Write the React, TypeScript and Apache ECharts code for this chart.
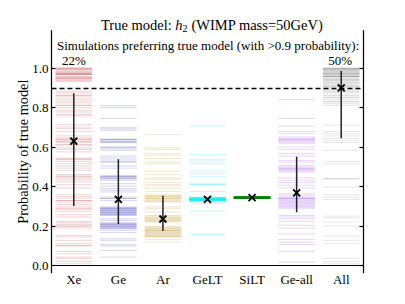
import React, { useEffect, useRef } from "react";
import * as echarts from "echarts";

const categories = ["Xe", "Ge", "Ar", "GeLT", "SiLT", "Ge-all", "All"];
const yTicks = [0, 0.2, 0.4, 0.6, 0.8, 1.0];

const xeValues = [
  1.0, 1.0, 1.0, 0.993, 0.993, 0.985, 0.985, 0.975, 0.975, 0.975, 0.975, 0.968, 0.968, 0.968, 0.955, 0.955, 0.955, 0.948, 0.948, 0.94, 0.94, 0.932,
  0.883, 0.875, 0.863, 0.863, 0.854, 0.843, 0.833, 0.824, 0.812, 0.812, 0.8, 0.787, 0.778, 0.765, 0.758,
  0.714, 0.702, 0.694, 0.68,
  0.657, 0.647, 0.64, 0.64, 0.63, 0.63, 0.623, 0.613, 0.61,
  0.596, 0.589, 0.576,
  0.545, 0.54, 0.537, 0.528, 0.516, 0.505, 0.494, 0.483,
  0.461, 0.454, 0.45, 0.444, 0.435, 0.424,
  0.41, 0.393,
  0.359, 0.349, 0.342, 0.33, 0.33, 0.322, 0.309, 0.297, 0.29, 0.285, 0.275,
  0.258, 0.246,
  0.224, 0.217, 0.209, 0.2, 0.2, 0.19,
  0.153, 0.145, 0.128, 0.111, 0.102, 0.1,
  0.072, 0.06,
  0.043, 0.035, 0.021, 0.009,
];
const geValues = [
  0.81, 0.8, 0.745, 0.7, 0.693, 0.686, 0.64, 0.64, 0.638, 0.63, 0.63, 0.625, 0.623, 0.6, 0.6, 0.592, 0.584,
  0.555, 0.545, 0.535, 0.525, 0.525, 0.505, 0.494, 0.457, 0.452, 0.45, 0.45, 0.445, 0.44, 0.44, 0.432,
  0.415, 0.403, 0.39, 0.382, 0.373, 0.347, 0.34, 0.34, 0.33,
  0.297, 0.295, 0.29, 0.29, 0.288, 0.285, 0.28, 0.28, 0.278, 0.275, 0.27, 0.27, 0.268, 0.265, 0.26, 0.26, 0.258, 0.254,
  0.237, 0.229, 0.217, 0.214, 0.21, 0.21, 0.207, 0.205, 0.2, 0.2, 0.198, 0.195, 0.19, 0.19, 0.187,
  0.178, 0.167, 0.136, 0.128, 0.106, 0.099, 0.077, 0.043,
];
const arValues = [
  0.663, 0.596, 0.589, 0.567, 0.559, 0.542, 0.525, 0.516, 0.478, 0.461, 0.444, 0.437, 0.42, 0.41, 0.403, 0.39, 0.376,
  0.359, 0.355, 0.35, 0.35, 0.345, 0.34, 0.34, 0.335, 0.33, 0.325, 0.322, 0.297, 0.288, 0.271,
  0.254, 0.25, 0.245, 0.24, 0.24, 0.235, 0.23, 0.23, 0.225, 0.221,
  0.2, 0.195, 0.19, 0.19, 0.185, 0.18, 0.18, 0.178, 0.175, 0.17, 0.17, 0.165, 0.16, 0.16, 0.155, 0.15, 0.15, 0.148, 0.145,
  0.133, 0.119,
];
const geltValues = [
  0.707, 0.564, 0.538, 0.53, 0.516, 0.478, 0.466, 0.449, 0.415, 0.412, 0.41, 0.376,
  0.347, 0.345, 0.344, 0.343, 0.342, 0.341, 0.34, 0.339, 0.338, 0.337, 0.336, 0.336, 0.335, 0.334, 0.333, 0.332,
  0.331, 0.33, 0.329, 0.328, 0.327, 0.326, 0.325, 0.336, 0.338, 0.34, 0.334, 0.332,
  0.314, 0.276, 0.158,
];
const siltValues = [0.344, 0.344, 0.344, 0.344, 0.344, 0.344, 0.344, 0.344, 0.344, 0.344];
const geAllValues = [
  0.841, 0.745, 0.707, 0.68, 0.668, 0.652, 0.645, 0.64, 0.64, 0.635, 0.63, 0.625, 0.618,
  0.601, 0.589, 0.567, 0.555, 0.533, 0.525, 0.508, 0.5, 0.495, 0.49, 0.49, 0.485, 0.48, 0.474,
  0.444, 0.432, 0.42, 0.407, 0.393, 0.364, 0.356,
  0.347, 0.343, 0.34, 0.34, 0.335, 0.33, 0.325, 0.32, 0.315, 0.31, 0.305, 0.3, 0.295, 0.288,
  0.254, 0.246, 0.237, 0.224, 0.204, 0.19, 0.161, 0.133, 0.119, 0.106, 0.072, 0.018,
];
const allValues = [
  1.0, 1.0, 1.0, 0.995, 0.995, 0.995, 0.995, 0.988, 0.988, 0.985, 0.98, 0.98, 0.98, 0.972, 0.972, 0.972, 0.972,
  0.965, 0.965, 0.965, 0.958, 0.958, 0.958, 0.958, 0.95, 0.95, 0.943, 0.943, 0.937, 0.937, 0.93,
  0.925, 0.925, 0.915, 0.915, 0.908, 0.908, 0.902,
  0.89, 0.89, 0.88, 0.88, 0.87, 0.86, 0.86, 0.85, 0.85, 0.84, 0.83, 0.83, 0.82, 0.812,
  0.711, 0.68, 0.668, 0.657, 0.645, 0.635, 0.623, 0.584, 0.528, 0.516,
  0.44, 0.44, 0.398, 0.359, 0.347, 0.336, 0.251, 0.241, 0.221, 0.2, 0.15, 0.128, 0.111, 0.035, 0.021, 0.009,
];
const markerValues = [0.631, 0.336, 0.236, 0.336, 0.344, 0.368, 0.9];
const errLow = [0.302, 0.21, 0.175, 0.336, 0.344, 0.27, 0.645];
const errHigh = [0.873, 0.539, 0.354, 0.336, 0.344, 0.552, 0.986];
const threshold = 0.9;
const percentLabels = ["22%", "50%"];

const columns = [
  { values: xeValues, color: "rgba(178,34,34,0.2)" },
  { values: geValues, color: "rgba(50,50,170,0.2)" },
  { values: arValues, color: "rgba(184,134,11,0.2)" },
  { values: geltValues, color: "rgba(0,240,240,0.25)" },
  { values: siltValues, color: "rgba(0,128,0,0.4)" },
  { values: geAllValues, color: "rgba(138,43,226,0.2)" },
  { values: allValues, color: "rgba(0,0,0,0.1)" },
];

const FONT = "'Liberation Serif', 'DejaVu Serif', serif";

export default function App() {
  const ref = useRef<HTMLDivElement>(null);
  useEffect(() => {
    if (!ref.current) return;
    const chart = echarts.init(ref.current, null, { renderer: "svg" });

    const lineSeries = columns.map((col, ci) => ({
      type: "custom",
      xAxisIndex: 0,
      yAxisIndex: 0,
      data: col.values.map((v) => [ci, v]),
      renderItem: (params: any, api: any) => {
        const c = api.coord([api.value(0), api.value(1)]);
        const w = api.size([1, 0])[0] * 0.82;
        return {
          type: "line",
          shape: { x1: c[0] - w / 2, y1: c[1], x2: c[0] + w / 2, y2: c[1] },
          style: { stroke: col.color, lineWidth: ci === 4 ? 2.2 : 1.0 },
        };
      },
      z: 1,
    }));

    const option: any = {
      animation: false,
      title: {
        text: "True model: {i|h}{s|2} (WIMP mass=50GeV)",
        left: 207,
        textAlign: "center",
        top: 11,
        textStyle: {
          fontFamily: FONT,
          fontSize: 14.5,
          fontWeight: "normal",
          color: "#000",
          rich: {
            i: { fontFamily: FONT, fontSize: 14.5, fontStyle: "italic", color: "#000" },
            s: { fontFamily: FONT, fontSize: 10, color: "#000", verticalAlign: "bottom", padding: [7, 0, 0, 0] },
          },
        },
      },
      grid: { left: 51.5, right: 41.5, top: 30.7, bottom: 31.3, containLabel: false },
      xAxis: [
        {
          type: "category",
          data: categories,
          boundaryGap: true,
          axisLine: { lineStyle: { color: "#000", width: 1.2 } },
          axisTick: { inside: true, alignWithLabel: true, length: 4, lineStyle: { color: "#000", width: 1.2 } },
          axisLabel: { fontFamily: FONT, fontSize: 13, color: "#000", margin: 0 },
          splitLine: { show: false },
        },
        {
          type: "category",
          data: categories,
          position: "top",
          boundaryGap: true,
          axisLine: { lineStyle: { color: "#000", width: 1.2 } },
          axisTick: { inside: true, alignWithLabel: true, length: 4, lineStyle: { color: "#000", width: 1.2 } },
          axisLabel: { show: false },
          splitLine: { show: false },
        },
      ],
      yAxis: [
        {
          type: "value",
          min: -0.036,
          max: 1.19,
          name: "Probability of true model",
          nameLocation: "middle",
          nameGap: 22,
          nameMoveOverlap: false,
          nameTextStyle: { fontFamily: FONT, fontSize: 14.3, color: "#000" },
          axisLine: { show: true, lineStyle: { color: "#000", width: 1.2 } },
          axisTick: { show: true, inside: true, length: 4, customValues: yTicks, lineStyle: { color: "#000", width: 1.2 } },
          axisLabel: {
            fontFamily: FONT,
            fontSize: 13,
            color: "#000",
            margin: 3,
            customValues: yTicks,
            formatter: (v: number) => v.toFixed(1),
          },
          splitLine: { show: false },
        },
        {
          type: "value",
          min: -0.036,
          max: 1.19,
          position: "right",
          axisLine: { show: true, lineStyle: { color: "#000", width: 1.2 } },
          axisTick: { show: true, inside: true, length: 4, customValues: yTicks, lineStyle: { color: "#000", width: 1.2 } },
          axisLabel: { show: false, customValues: yTicks },
          splitLine: { show: false },
        },
      ],
      graphic: [
        {
          type: "text",
          x: 57,
          y: 45,
          style: {
            text: "Simulations preferring true model (with >0.9 probability):",
            font: `13px ${FONT}`,
            fill: "#000",
            textVerticalAlign: "middle",
          },
        },
        {
          type: "text",
          x: 62,
          y: 60,
          style: { text: percentLabels[0], font: `13px ${FONT}`, fill: "#000", textVerticalAlign: "middle" },
        },
        {
          type: "text",
          x: 352,
          y: 60,
          style: { text: percentLabels[1], font: `13px ${FONT}`, fill: "#000", textAlign: "right", textVerticalAlign: "middle" },
        },
      ],
      series: [
        ...lineSeries,
        {
          type: "custom",
          xAxisIndex: 0,
          yAxisIndex: 0,
          data: categories.map((_, i) => [i, errLow[i], errHigh[i]]),
          renderItem: (params: any, api: any) => {
            const a = api.coord([api.value(0), api.value(1)]);
            const b = api.coord([api.value(0), api.value(2)]);
            return {
              type: "line",
              shape: { x1: a[0], y1: a[1], x2: b[0], y2: b[1] },
              style: { stroke: "#222", lineWidth: 1.5 },
            };
          },
          z: 5,
          markLine: {
            silent: true,
            symbol: "none",
            label: { show: false },
            lineStyle: { color: "#000", width: 1.3, type: [5, 3] },
            data: [{ yAxis: threshold }],
          },
        },
        {
          type: "custom",
          xAxisIndex: 0,
          yAxisIndex: 0,
          data: markerValues.map((v, i) => [i, v]),
          renderItem: (params: any, api: any) => {
            const c = api.coord([api.value(0), api.value(1)]);
            const s = 3.5;
            return {
              type: "group",
              children: [
                { type: "line", shape: { x1: c[0] - s, y1: c[1] - s, x2: c[0] + s, y2: c[1] + s }, style: { stroke: "#000", lineWidth: 1.8 } },
                { type: "line", shape: { x1: c[0] - s, y1: c[1] + s, x2: c[0] + s, y2: c[1] - s }, style: { stroke: "#000", lineWidth: 1.8 } },
              ],
            };
          },
          z: 6,
        },
      ],
    };
    chart.setOption(option);
    return () => chart.dispose();
  }, []);
  return <div ref={ref} style={{ width: 405, height: 304, position: "absolute", left: 0, top: 0 }} />;
}
